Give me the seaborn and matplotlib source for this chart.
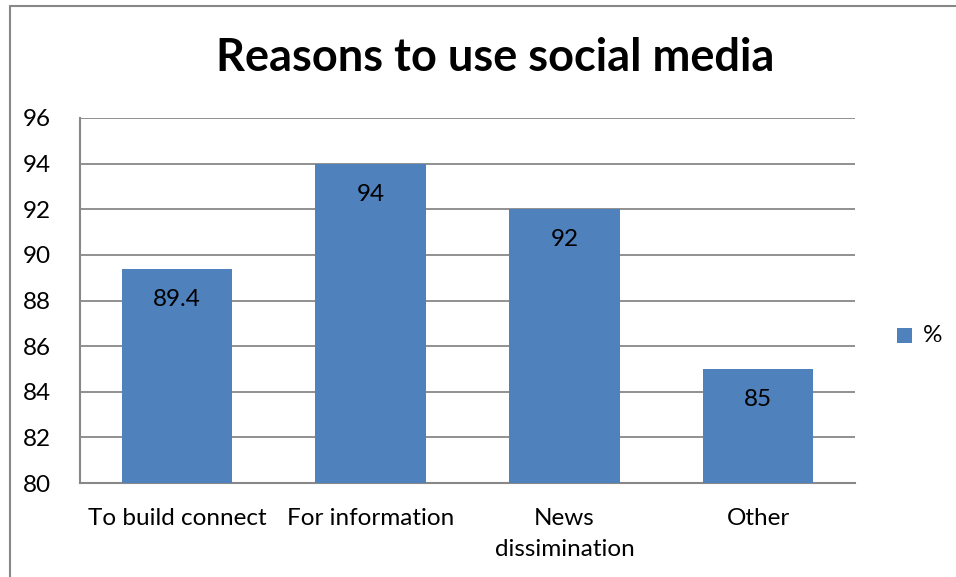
import matplotlib
matplotlib.use("Agg")
import matplotlib.pyplot as plt
import seaborn as sns
import pandas as pd
from matplotlib.patches import Rectangle
from matplotlib.lines import Line2D

categories = ["To build connect", "For information", "News\ndissimination", "Other"]
values = [89.4, 94, 92, 85]
value_labels = ["89.4", "94", "92", "85"]
yticks = [80, 82, 84, 86, 88, 90, 92, 94, 96]
series_name = "%"
title = "Reasons to use social media"

sns.set_theme(style="white")
plt.rcParams['font.family'] = ['Lato', 'DejaVu Sans']
plt.rcParams['text.color'] = 'black'
plt.rcParams['xtick.color'] = 'black'
plt.rcParams['ytick.color'] = 'black'

bar_color = "#4F81BD"
grid_color = "#888888"

df = pd.DataFrame({"cat": categories, "val": values})

fig = plt.figure(figsize=(9.56, 5.77), dpi=100)
ax = fig.add_axes([80/956, 1-483/577, (855-80)/956, (483-118)/577])

sns.barplot(data=df, x="cat", y="val", color=bar_color, saturation=1, width=0.57, ax=ax, zorder=3)
for p in ax.patches:
    p.set_edgecolor("none")
    p.set_zorder(3)

ax.set_ylim(80, 96)
ax.set_yticks(yticks)
ax.set_yticklabels([str(t) for t in yticks], fontsize=17.5, color="black")
ax.set_xlim(-0.5, 3.5)
ax.tick_params(axis='x', labelsize=17.5, length=0, pad=18, labelcolor="black")
ax.tick_params(axis='y', length=0, pad=21, labelcolor="black")
for lab in ax.get_xticklabels():
    lab.set_linespacing(1.6)
ax.set_xlabel("")
ax.set_ylabel("")
ax.yaxis.grid(True, color=grid_color, linewidth=1.3, zorder=0)
ax.set_axisbelow(True)
for s in ["top", "right"]:
    ax.spines[s].set_visible(False)
for s in ["left", "bottom"]:
    ax.spines[s].set_color(grid_color)
    ax.spines[s].set_linewidth(1.5)

for i, (v, t) in enumerate(zip(values, value_labels)):
    ax.annotate(t, (i, v), xytext=(0, -22), textcoords="offset points",
                ha="center", va="center", fontsize=17.5, color="black", zorder=4)

fig.text(495/956, 1-58/577, title, ha="center", va="center", fontsize=32.5, fontweight="bold", color="black")

# legend
fig.patches.append(Rectangle((897/956, 1-343/577), 15/956, 15/577, transform=fig.transFigure,
                             facecolor=bar_color, edgecolor="none"))
fig.text(923/956, 1-336/577, series_name, ha="left", va="center", fontsize=17.5, color="black")

# outer frame
fig.add_artist(Line2D([10/956, 10/956], [0, 1-6/577], transform=fig.transFigure, color="#888888", linewidth=1.5))
fig.add_artist(Line2D([10/956, 1], [1-6/577, 1-6/577], transform=fig.transFigure, color="#888888", linewidth=1.5))

fig.savefig("out.png", dpi=100)
